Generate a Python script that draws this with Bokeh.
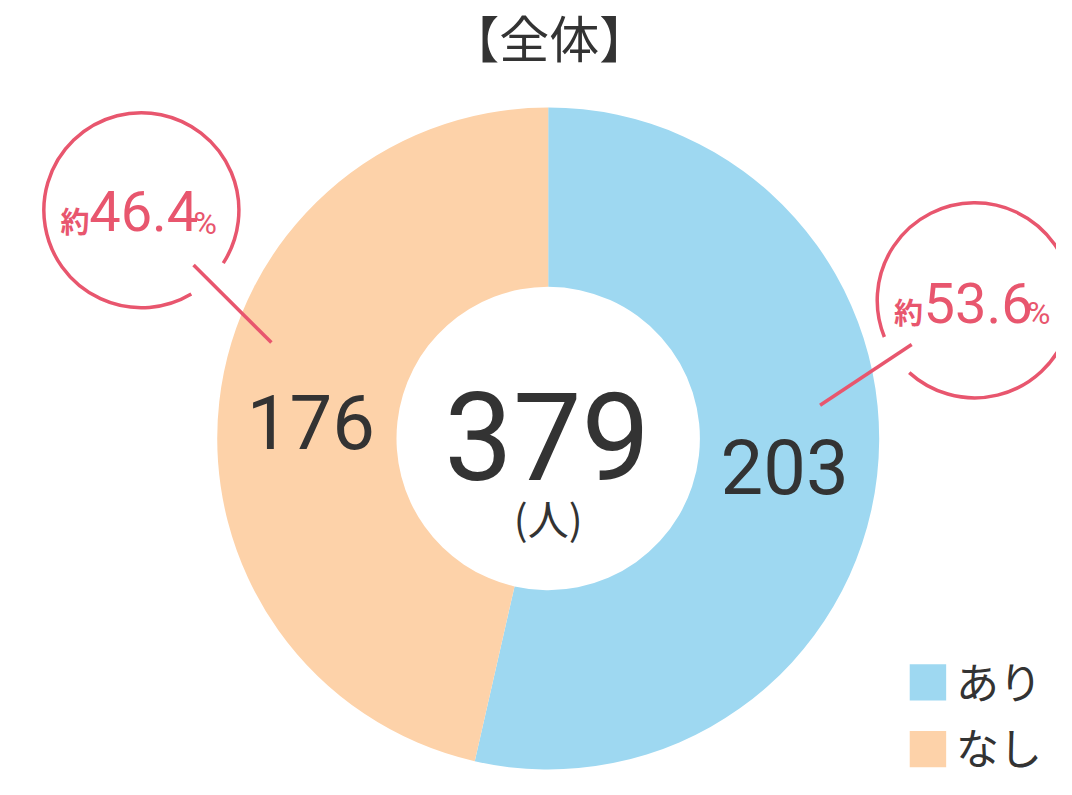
import math
from bokeh.plotting import figure
from bokeh.models import Range1d
from bokeh.core.properties import value
from bokeh.embed import file_html
from bokeh.resources import INLINE

# ---- data ----
categories = ["あり", "なし"]
counts = [203, 176]
percent_labels = ["53.6", "46.4"]
total_label = "379"
unit_label = "(人)"
title_text = "【全体】"
colors = ["#9ED8F1", "#FDD2A9"]
accent = "#E8566E"
dark = "#333333"

W, H = 1056, 779
p = figure(width=W, height=H, output_backend="svg", toolbar_location=None,
           x_range=Range1d(0, 1072), y_range=Range1d(0, 795),
           min_border=0, outline_line_color=None, background_fill_color="white")
p.axis.visible = False
p.grid.visible = False

def Y(ys):
    return 795 - ys

cx, cy = 556, Y(447)
total = sum(counts)
a_top = math.pi / 2
blue_start = a_top - 2 * math.pi * counts[0] / total
p.annular_wedge(x=cx, y=cy, inner_radius=154, outer_radius=336,
                start_angle=blue_start, end_angle=a_top,
                fill_color=colors[0], line_color=None)
p.annular_wedge(x=cx, y=cy, inner_radius=154, outer_radius=336,
                start_angle=a_top, end_angle=a_top + 2 * math.pi * counts[1] / total,
                fill_color=colors[1], line_color=None)

num_font = value("Roboto")
jp_font = value("Noto Sans CJK JP")

# center total
p.text(x=[555], y=[Y(444)], text=[total_label], text_font=num_font,
       text_font_size="122px", text_color=dark, text_align="center",
       text_baseline="middle")
p.text(x=[556], y=[Y(527)], text=[unit_label], text_font=jp_font,
       text_font_size="41px", text_color=dark, text_align="center",
       text_baseline="middle")

# slice values
p.text(x=[796, 315], y=[Y(476), Y(430)], text=[str(c) for c in counts],
       text_font=num_font, text_font_size="76px", text_color=dark,
       text_align="center", text_baseline="middle")

# title
p.text(x=[557], y=[Y(36)], text=[title_text], text_font=jp_font,
       text_font_size="50px", text_color=dark, text_align="center",
       text_baseline="middle")

# callouts
p.arc(x=989, y=Y(306), radius=99,
      start_angle=math.radians(227.8), end_angle=math.radians(202.1 + 360),
      line_color=accent, line_width=3.5)
p.line(x=[925, 832], y=[Y(351), Y(413)], line_color=accent, line_width=3.5)
p.arc(x=143, y=Y(214), radius=99,
      start_angle=math.radians(-32.9), end_angle=math.radians(300.8),
      line_color=accent, line_width=3.5)
p.line(x=[196, 275], y=[Y(270), Y(349)], line_color=accent, line_width=3.5)

lab_x = [907, 61]
num_x = [937, 90]
pct_x = [1042, 196]
p.text(x=lab_x, y=[Y(317), Y(224)], text=["約", "約"], text_font=jp_font,
       text_font_size="29px", text_color=accent, text_align="left",
       text_baseline="middle", text_font_style="bold")
p.text(x=num_x, y=[Y(309), Y(215)], text=percent_labels, text_font=num_font,
       text_font_size="56px", text_color=accent, text_align="left",
       text_baseline="middle")
p.text(x=pct_x, y=[Y(319), Y(227)], text=["%", "%"], text_font=num_font,
       text_font_size="32px", text_color=accent, text_align="left",
       text_baseline="middle")

# legend
leg_y = [Y(696), Y(764)]
p.rect(x=[941.5, 941.5], y=leg_y, width=37, height=37,
       fill_color=colors, line_color=None)
p.text(x=[970, 970], y=[v + 3 for v in leg_y], text=categories, text_font=jp_font,
       text_font_size="43px", text_color=dark, text_align="left",
       text_baseline="middle")

open("out.html", "w").write(file_html(p, INLINE))
